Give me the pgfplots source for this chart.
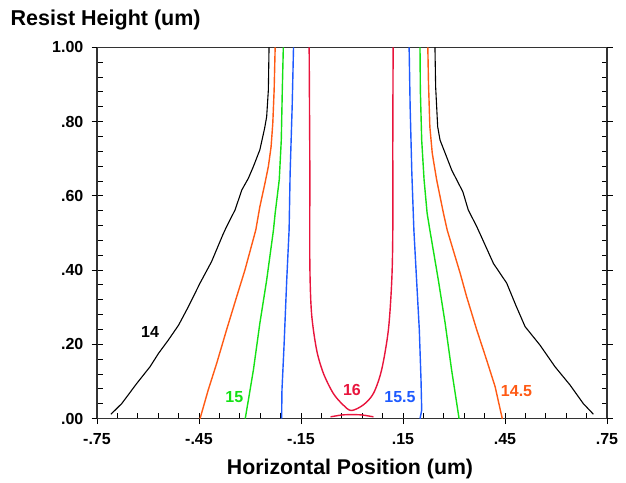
\documentclass[border=0pt]{standalone}
\usepackage{pgfplots}
\pgfplotsset{compat=1.18}
\usepackage{fontspec}
\setmainfont{Liberation Sans}
\definecolor{corange}{RGB}{255,90,20}
\definecolor{cgreen}{RGB}{20,225,20}
\definecolor{cblue}{RGB}{30,90,255}
\definecolor{cred}{RGB}{232,20,60}
\begin{document}
\begin{tikzpicture}[x=1pt,y=1pt]
\useasboundingbox (0,0) rectangle (626,482);
\begin{axis}[
  at={(97pt,63.3pt)}, anchor=south west,
  scale only axis, width=510pt, height=371.4pt,
  xmin=-0.75, xmax=0.75, ymin=0, ymax=1,
  axis line style={draw=black!80, line width=1.3pt},
  tick style={black, line width=1pt},
  tick align=inside,
  major tick length=5.5pt, minor tick length=5.5pt,
  xtick pos=left, ytick pos=both,
  xtick={-0.75,-0.45,-0.15,0.15,0.45,0.75},
  xticklabels={-.75,-.45,-.15,.15,.45,.75},
  ytick={0,0.2,0.4,0.6,0.8,1},
  yticklabels={.00,.20,.40,.60,.80,1.00},
  minor x tick num=4, minor y tick num=4,
  extra x ticks={-0.75,-0.45,-0.15,0.15,0.45,0.75},
  extra x tick labels={},
  extra x tick style={tick align=outside, major tick length=5.5pt},
  extra y ticks={0,0.2,0.4,0.6,0.8,1},
  extra y tick labels={},
  extra y tick style={tick align=outside, major tick length=5.5pt},
  xticklabel style={font=\fontsize{16}{18}\selectfont\bfseries, anchor=base, inner sep=0pt, yshift=-26pt},
  yticklabel style={font=\fontsize{16}{18}\selectfont\bfseries, anchor=east, inner sep=0pt, xshift=-13.5pt},
  every axis plot/.append style={line width=1.4pt},
]
% 14 (black)
\addplot[black, line width=1.1pt] coordinates {(-0.244,1.0) (-0.246,0.885) (-0.251,0.813) (-0.257,0.782) (-0.271,0.724) (-0.290,0.679) (-0.305,0.647) (-0.324,0.616) (-0.344,0.562) (-0.369,0.517) (-0.380,0.495) (-0.413,0.423) (-0.447,0.365) (-0.481,0.302) (-0.510,0.252) (-0.540,0.212) (-0.569,0.176) (-0.594,0.140) (-0.633,0.095) (-0.677,0.041) (-0.709,0.012)};
\addplot[black, line width=1.1pt] coordinates {(0.244,1.0) (0.246,0.894) (0.252,0.786) (0.259,0.750) (0.274,0.715) (0.293,0.670) (0.308,0.643) (0.326,0.611) (0.342,0.562) (0.367,0.517) (0.378,0.495) (0.416,0.418) (0.455,0.365) (0.482,0.305) (0.509,0.248) (0.553,0.198) (0.597,0.140) (0.641,0.091) (0.680,0.041) (0.710,0.012)};
% 14.5 (orange)
\addplot[corange] coordinates {(-0.226,1.0) (-0.229,0.885) (-0.233,0.795) (-0.238,0.732) (-0.246,0.679) (-0.256,0.634) (-0.271,0.571) (-0.283,0.508) (-0.315,0.400) (-0.339,0.329) (-0.369,0.239) (-0.398,0.149) (-0.423,0.077) (-0.447,0.0)};
\addplot[corange] coordinates {(0.223,1.0) (0.225,0.903) (0.229,0.786) (0.236,0.715) (0.249,0.643) (0.269,0.553) (0.280,0.508) (0.318,0.392) (0.337,0.329) (0.367,0.239) (0.396,0.158) (0.421,0.086) (0.442,0.0)};
% 15 (green)
\addplot[cgreen] coordinates {(-0.202,1.0) (-0.205,0.885) (-0.208,0.750) (-0.214,0.643) (-0.226,0.553) (-0.231,0.508) (-0.251,0.373) (-0.271,0.257) (-0.290,0.131) (-0.314,0.0)};
\addplot[cgreen] coordinates {(0.200,1.0) (0.201,0.885) (0.205,0.750) (0.212,0.643) (0.221,0.553) (0.229,0.508) (0.254,0.373) (0.274,0.257) (0.293,0.131) (0.315,0.0)};
% 15.5 (blue)
\addplot[cblue] coordinates {(-0.172,1.0) (-0.176,0.840) (-0.182,0.661) (-0.185,0.508) (-0.192,0.373) (-0.200,0.194) (-0.206,0.077) (-0.207,0.0)};
\addplot[cblue] coordinates {(0.168,1.0) (0.171,0.840) (0.176,0.661) (0.182,0.508) (0.190,0.373) (0.198,0.239) (0.203,0.104) (0.205,0.023) (0.200,0.0)};
% 16 (red)
\addplot[cred, smooth, tension=0.5] coordinates {(-0.126,1.0) (-0.125,0.840) (-0.124,0.661) (-0.124,0.418) (-0.119,0.284) (-0.104,0.185) (-0.084,0.122) (-0.055,0.068) (-0.026,0.037) (-0.002,0.022) (0.033,0.037) (0.063,0.068) (0.087,0.131) (0.107,0.239) (0.117,0.373) (0.120,0.508) (0.120,0.750) (0.121,1.0)};
\addplot[cred, smooth] coordinates {(-0.063,0.005) (-0.030,0.010) (0.000,0.011) (0.030,0.010) (0.063,0.005)};
% contour labels
\node[font=\fontsize{16}{18}\selectfont\bfseries, text=black] at (axis cs:-0.594,0.234) {14};
\node[font=\fontsize{16}{18}\selectfont\bfseries, text=cgreen] at (axis cs:-0.346,0.059) {15};
\node[font=\fontsize{16}{18}\selectfont\bfseries, text=cred] at (axis cs:0.0,0.077) {16};
\node[font=\fontsize{16}{18}\selectfont\bfseries, text=cblue] at (axis cs:0.141,0.059) {15.5};
\node[font=\fontsize{16}{18}\selectfont\bfseries, text=corange] at (axis cs:0.484,0.075) {14.5};
\end{axis}
\node[anchor=base west, font=\fontsize{21.5}{24}\selectfont\bfseries, inner sep=0pt] at (10.5,456) {Resist Height (um)};
\node[anchor=base, font=\fontsize{21.3}{24}\selectfont\bfseries, inner sep=0pt] at (350,7.7) {Horizontal Position (um)};
\end{tikzpicture}
\end{document}
